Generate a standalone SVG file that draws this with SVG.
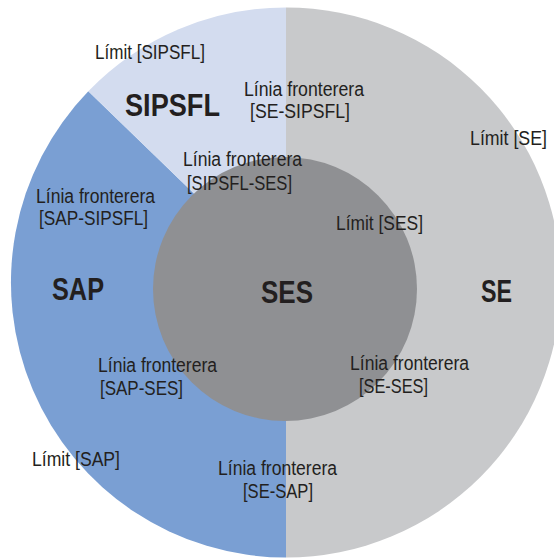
<svg xmlns="http://www.w3.org/2000/svg" width="554" height="558" viewBox="0 0 554 558">
  <style>
    .lbl { font-family: "Liberation Sans", Arial, sans-serif; font-size: 19.5px; fill: #231f20; }
    .big { font-family: "Liberation Sans", Arial, sans-serif; font-size: 31px; font-weight: bold; fill: #231f20; }
  </style>
  <rect width="554" height="558" fill="#ffffff"/>

  <!-- Outer ring: three regions -->
  <g id="SE">
    <path d="M286 7.5 A275 275 0 0 1 286 557.5 Z" fill="#c8c9cb"/>
  </g>
  <g id="SAP">
    <path d="M286 282.5 L286 557.5 A275 275 0 0 1 88.3 91.3 Z" fill="#7a9fd3"/>
  </g>
  <g id="SIPSFL">
    <path d="M286 282.5 L88.3 91.3 A275 275 0 0 1 286 7.5 Z" fill="#d3dcef"/>
  </g>
  <!-- Inner circle -->
  <g id="SES">
    <circle cx="285" cy="289" r="132" fill="#8f9093"/>
  </g>

  <!-- Region names -->
  <g id="names">
    <text class="big" x="125" y="116" textLength="95" lengthAdjust="spacingAndGlyphs">SIPSFL</text>
    <text class="big" x="52" y="300" textLength="52" lengthAdjust="spacingAndGlyphs">SAP</text>
    <text class="big" x="261" y="303" textLength="52" lengthAdjust="spacingAndGlyphs">SES</text>
    <text class="big" x="481" y="302" textLength="31" lengthAdjust="spacingAndGlyphs">SE</text>
  </g>

  <!-- Limits of each region -->
  <g id="limits">
    <text class="lbl" x="95" y="59" textLength="110" lengthAdjust="spacingAndGlyphs">Límit [SIPSFL]</text>
    <text class="lbl" x="470" y="145" textLength="77" lengthAdjust="spacingAndGlyphs">Límit [SE]</text>
    <text class="lbl" x="336" y="230" textLength="87" lengthAdjust="spacingAndGlyphs">Límit [SES]</text>
    <text class="lbl" x="32" y="466" textLength="88" lengthAdjust="spacingAndGlyphs">Límit [SAP]</text>
  </g>

  <!-- Boundary lines between regions -->
  <g id="boundaries">
    <text class="lbl" x="244" y="96" textLength="120" lengthAdjust="spacingAndGlyphs">Línia fronterera</text>
    <text class="lbl" x="250" y="118" textLength="100" lengthAdjust="spacingAndGlyphs">[SE-SIPSFL]</text>

    <text class="lbl" x="183" y="166" textLength="119" lengthAdjust="spacingAndGlyphs">Línia fronterera</text>
    <text class="lbl" x="187" y="190" textLength="105" lengthAdjust="spacingAndGlyphs">[SIPSFL-SES]</text>

    <text class="lbl" x="36" y="203" textLength="119" lengthAdjust="spacingAndGlyphs">Línia fronterera</text>
    <text class="lbl" x="39" y="225" textLength="109" lengthAdjust="spacingAndGlyphs">[SAP-SIPSFL]</text>

    <text class="lbl" x="98" y="372" textLength="119" lengthAdjust="spacingAndGlyphs">Línia fronterera</text>
    <text class="lbl" x="100" y="395" textLength="83" lengthAdjust="spacingAndGlyphs">[SAP-SES]</text>

    <text class="lbl" x="350" y="370" textLength="119" lengthAdjust="spacingAndGlyphs">Línia fronterera</text>
    <text class="lbl" x="359" y="393" textLength="69" lengthAdjust="spacingAndGlyphs">[SE-SES]</text>

    <text class="lbl" x="218" y="475" textLength="119" lengthAdjust="spacingAndGlyphs">Línia fronterera</text>
    <text class="lbl" x="243" y="498" textLength="70" lengthAdjust="spacingAndGlyphs">[SE-SAP]</text>
  </g>
</svg>
